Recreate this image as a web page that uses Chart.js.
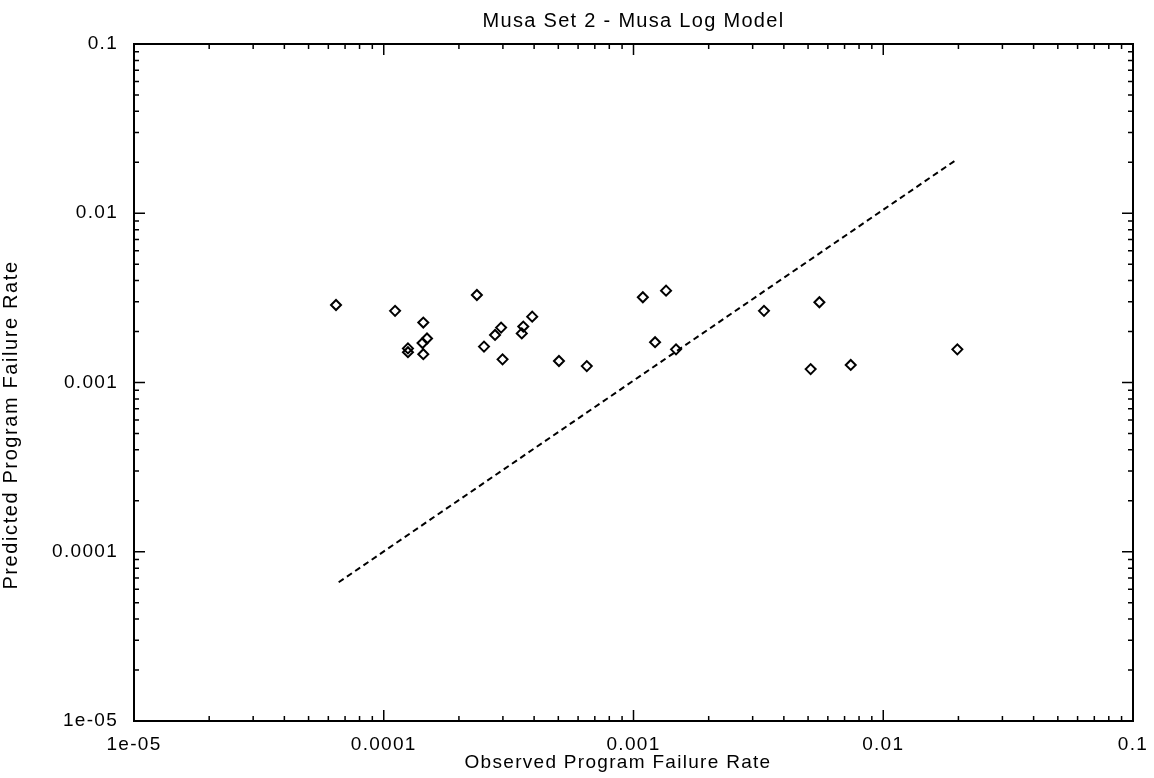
<!DOCTYPE html>
<html>
<head>
<meta charset="utf-8">
<script src="https://cdn.jsdelivr.net/npm/chart.js@4.4.1/dist/chart.umd.min.js"></script>
<style>
html,body{margin:0;padding:0;background:#fff;}
#wrap{width:1154px;height:778px;position:relative;}
</style>
</head>
<body>
<div id="wrap"><canvas id="c"></canvas></div>
<script>
// ---- data ----
const chartTitle = 'Musa Set 2 - Musa Log Model';
const xAxisTitle = 'Observed Program Failure Rate';
const yAxisTitle = 'Predicted Program Failure Rate';
const obsRate = [6.44e-5, 1.11e-4, 1.44e-4, 1.49e-4, 1.43e-4, 1.25e-4, 1.25e-4, 1.44e-4,
  2.36e-4, 2.52e-4, 2.79e-4, 2.95e-4, 2.99e-4, 3.62e-4, 3.57e-4, 3.93e-4, 5.03e-4, 6.50e-4,
  1.09e-3, 1.35e-3, 1.22e-3, 1.48e-3, 3.33e-3, 5.55e-3, 5.12e-3, 7.41e-3, 1.98e-2];
const predRate = [2.87e-3, 2.65e-3, 2.26e-3, 1.82e-3, 1.71e-3, 1.59e-3, 1.51e-3, 1.47e-3,
  3.29e-3, 1.63e-3, 1.91e-3, 2.11e-3, 1.37e-3, 2.14e-3, 1.95e-3, 2.45e-3, 1.34e-3, 1.25e-3,
  3.19e-3, 3.49e-3, 1.73e-3, 1.57e-3, 2.65e-3, 2.98e-3, 1.20e-3, 1.27e-3, 1.57e-3];
const refLineX = [6.6e-5, 0.0198];
const refLineY = [6.6e-5, 0.0209];
const tickValues = [1e-5, 1e-4, 1e-3, 1e-2, 1e-1];
const tickLabels = ['1e-05', '0.0001', '0.001', '0.01', '0.1'];

const FONT = "'Liberation Sans', Arial, Helvetica, sans-serif";
const SPACING = '1.3px';

const scatterPts = obsRate.map((x, i) => ({x: x, y: predRate[i]}));
const linePts = refLineX.map((x, i) => ({x: x, y: refLineY[i]}));

function setDecadeTicks(scale) {
  scale.ticks = tickValues.map(v => ({value: v}));
}
function labelFor(value) {
  const i = tickValues.findIndex(v => Math.abs(Math.log10(v) - Math.log10(value)) < 1e-6);
  return i >= 0 ? tickLabels[i] : '';
}

const spacingPlugin = {
  id: 'spacing',
  beforeLayout(chart) { chart.ctx.letterSpacing = SPACING; },
  beforeDraw(chart) { chart.ctx.letterSpacing = SPACING; }
};

const framePlugin = {
  id: 'frame',
  afterDraw(chart) {
    const ctx = chart.ctx;
    const {left, right, top, bottom} = chart.chartArea;
    const xs = chart.scales.x, ys = chart.scales.y;
    ctx.save();
    ctx.strokeStyle = '#000';
    ctx.lineWidth = 2;
    ctx.strokeRect(left, top, right - left, bottom - top);
    ctx.lineWidth = 1.5;
    ctx.beginPath();
    for (let k = -5; k <= -1; k++) {
      for (let m = 1; m <= 9; m++) {
        const v = m * Math.pow(10, k);
        if (v > 0.1 * 1.0001) continue;
        const major = m === 1;
        const len = major ? 11 : 5;
        const px = xs.getPixelForValue(v);
        ctx.moveTo(px, bottom); ctx.lineTo(px, bottom - len);
        ctx.moveTo(px, top); ctx.lineTo(px, top + len);
        const py = ys.getPixelForValue(v);
        ctx.moveTo(left, py); ctx.lineTo(left + len, py);
        ctx.moveTo(right, py); ctx.lineTo(right - len, py);
      }
    }
    ctx.stroke();
    // axis titles
    ctx.fillStyle = '#000';
    ctx.textAlign = 'center';
    ctx.textBaseline = 'middle';
    ctx.letterSpacing = SPACING;
    ctx.font = '19px ' + FONT;
    ctx.fillText(xAxisTitle, 618, 763);
    ctx.letterSpacing = '1.6px';
    ctx.font = '20px ' + FONT;
    ctx.translate(11, 425);
    ctx.rotate(-Math.PI / 2);
    ctx.fillText(yAxisTitle, 0, 0);
    ctx.restore();
  }
};

new Chart(document.getElementById('c'), {
  type: 'scatter',
  data: {
    datasets: [
      {
        type: 'line',
        data: linePts,
        borderColor: '#000',
        borderWidth: 2,
        borderDash: [6, 4],
        pointRadius: 0,
        fill: false,
        tension: 0
      },
      {
        data: scatterPts,
        pointStyle: 'rectRot',
        pointRadius: 5,
        pointBorderWidth: 2,
        borderColor: '#000',
        backgroundColor: 'rgba(255,255,255,0)',
        showLine: false
      }
    ]
  },
  options: {
    responsive: true,
    maintainAspectRatio: false,
    animation: false,
    layout: {padding: {left: 0, right: 21, top: 0, bottom: 0}},
    plugins: {
      legend: {display: false},
      tooltip: {enabled: false},
      title: {
        display: true,
        fullSize: false,
        text: chartTitle,
        color: '#000',
        font: {family: FONT, size: 20, weight: 'normal', lineHeight: 1.2},
        padding: {top: 9, bottom: 11}
      }
    },
    scales: {
      x: {
        type: 'logarithmic',
        min: 1e-5,
        max: 0.1,
        afterBuildTicks: setDecadeTicks,
        afterFit(s) { s.height = 57; s.paddingRight = 0; s.paddingLeft = 0; },
        grid: {display: false, drawTicks: false},
        border: {display: false},
        ticks: {
          color: '#000',
          padding: 12,
          maxRotation: 0,
          autoSkip: false,
          font: {family: FONT, size: 19},
          callback: (v) => labelFor(v)
        }
      },
      y: {
        type: 'logarithmic',
        min: 1e-5,
        max: 0.1,
        afterBuildTicks: setDecadeTicks,
        afterFit(s) { s.width = 134; s.paddingTop = 0; s.paddingBottom = 0; },
        grid: {display: false, drawTicks: false},
        border: {display: false},
        ticks: {
          color: '#000',
          padding: 16,
          autoSkip: false,
          font: {family: FONT, size: 19},
          callback: (v) => labelFor(v)
        }
      }
    }
  },
  plugins: [spacingPlugin, framePlugin]
});
</script>
</body>
</html>
